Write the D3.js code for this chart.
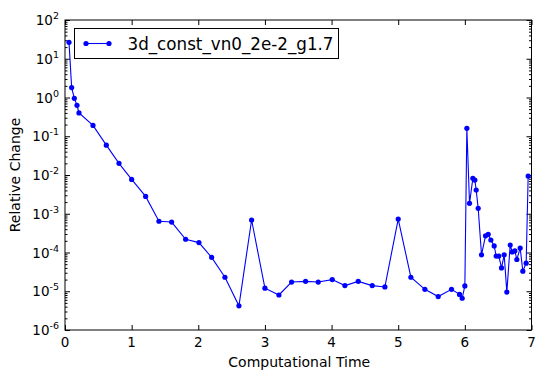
<!DOCTYPE html>
<html><head><meta charset="utf-8">
<script src="https://cdn.jsdelivr.net/npm/d3@7"></script>
<style>body{margin:0;background:#fff}svg{display:block}text{font-family:"DejaVu Sans",sans-serif}</style>
</head><body><svg id="c" width="545" height="380"></svg>
<script>
const seriesName = "3d_const_vn0_2e-2_g1.7";
const times = [0.06,0.1,0.14,0.18,0.21,0.42,0.62,0.81,1.0,1.21,1.41,1.6,1.81,2.01,2.2,2.4,2.61,2.8,
  3.0,3.21,3.4,3.61,3.8,4.01,4.2,4.4,4.61,4.8,5.0,5.19,5.4,5.6,5.8,5.92,5.96,
  6.0,6.03,6.07,6.12,6.15,6.17,6.2,6.25,6.31,6.35,6.39,6.44,6.47,6.51,6.55,6.59,6.63,6.68,6.71,6.75,6.78,6.83,6.87,6.92,6.95];
const changes = [26.5,1.8,0.95,0.63,0.40,0.19,0.059,0.020,0.0077,0.0028,6.4e-4,6.1e-4,2.2e-4,1.8e-4,7.5e-5,2.3e-5,4.2e-6,6.9e-4,
  1.2e-5,8e-6,1.73e-5,1.8e-5,1.73e-5,2e-5,1.4e-5,1.8e-5,1.4e-5,1.29e-5,7.3e-4,2.3e-5,1.12e-5,7.3e-6,1.12e-5,8.3e-6,6.6e-6,
  1.37e-5,0.16,1.86e-3,8.2e-3,7.4e-3,4.1e-3,1.38e-3,8.7e-5,2.7e-4,2.95e-4,2.1e-4,1.48e-4,8.1e-5,8.1e-5,4e-5,8.7e-5,9.5e-6,1.56e-4,1.03e-4,1.1e-4,6.6e-5,1.3e-4,3.3e-5,5.3e-5,9.4e-3];
const xTicks = [0,1,2,3,4,5,6,7];
const yExponents = [-6,-5,-4,-3,-2,-1,0,1,2];

const svg = d3.select("#c");
const L = 65, R = 531.5, T = 20, B = 330;
const x = d3.scaleLinear().domain([0,7]).range([L,R]);
const y = d3.scaleLog().domain([1e-6,1e2]).range([B,T]);

const minor = [];
for (let e=-6;e<2;e++) for (let k=2;k<10;k++) minor.push(k*Math.pow(10,e));

const g = svg.append("g");
function ticks(axisGen, tr){ const a=g.append("g").attr("transform",tr).call(axisGen); a.select(".domain").remove(); a.selectAll("text").remove(); a.selectAll("line").attr("stroke","#000").attr("stroke-width",1); return a; }
ticks(d3.axisBottom(x).tickValues(xTicks).tickSize(-5), `translate(0,${B})`);
ticks(d3.axisTop(x).tickValues(xTicks).tickSize(-5), `translate(0,${T})`);
ticks(d3.axisLeft(y).tickValues(yExponents.map(e=>Math.pow(10,e))).tickSize(-5), `translate(${L},0)`);
ticks(d3.axisRight(y).tickValues(yExponents.map(e=>Math.pow(10,e))).tickSize(-5), `translate(${R},0)`);
ticks(d3.axisLeft(y).tickValues(minor).tickSize(-2.5), `translate(${L},0)`);
ticks(d3.axisRight(y).tickValues(minor).tickSize(-2.5), `translate(${R},0)`);

g.selectAll(".xl").data(xTicks).enter().append("text")
  .attr("x",d=>x(d)).attr("y",B+17).attr("text-anchor","middle").attr("font-size",13.5).text(d=>d);
const yl = g.selectAll(".yl").data(yExponents).enter().append("text")
  .attr("x",L-6).attr("y",d=>y(Math.pow(10,d))+5).attr("text-anchor","end").attr("font-size",13.5);
yl.append("tspan").text("10");
yl.append("tspan").attr("dy",-6).attr("font-size",9.5).text(d=>d);

const data = times.map((t,i)=>({t, v:changes[i]}));
g.append("path").datum(data).attr("fill","none").attr("stroke","#0000ff").attr("stroke-width",1.1)
  .attr("d", d3.line().x(d=>x(d.t)).y(d=>y(d.v)));
g.selectAll(".pt").data(data).enter().append("circle")
  .attr("cx",d=>x(d.t)).attr("cy",d=>y(d.v)).attr("r",2.6).attr("fill","#0000ff");

g.append("rect").attr("x",L).attr("y",T).attr("width",R-L).attr("height",B-T)
  .attr("fill","none").attr("stroke","#000").attr("stroke-width",1);

svg.append("text").attr("x",(L+R)/2+1).attr("y",367).attr("text-anchor","middle").attr("font-size",14).text("Computational Time");
svg.append("text").attr("transform",`translate(20,${(T+B)/2}) rotate(-90)`).attr("text-anchor","middle").attr("font-size",14).text("Relative Change");

const lg = svg.append("g");
lg.append("rect").attr("x",74.5).attr("y",28.5).attr("width",264).attr("height",30).attr("fill","#fff").attr("stroke","#000");
lg.append("line").attr("x1",86).attr("x2",109).attr("y1",43.5).attr("y2",43.5).attr("stroke","#0000ff").attr("stroke-width",1.1);
lg.selectAll("circle").data([86,109]).enter().append("circle").attr("cx",d=>d).attr("cy",43.5).attr("r",2.6).attr("fill","#0000ff");
lg.append("text").attr("x",127.5).attr("y",50).attr("font-size",17).attr("textLength",206).attr("lengthAdjust","spacingAndGlyphs").text(seriesName);
</script></body></html>
